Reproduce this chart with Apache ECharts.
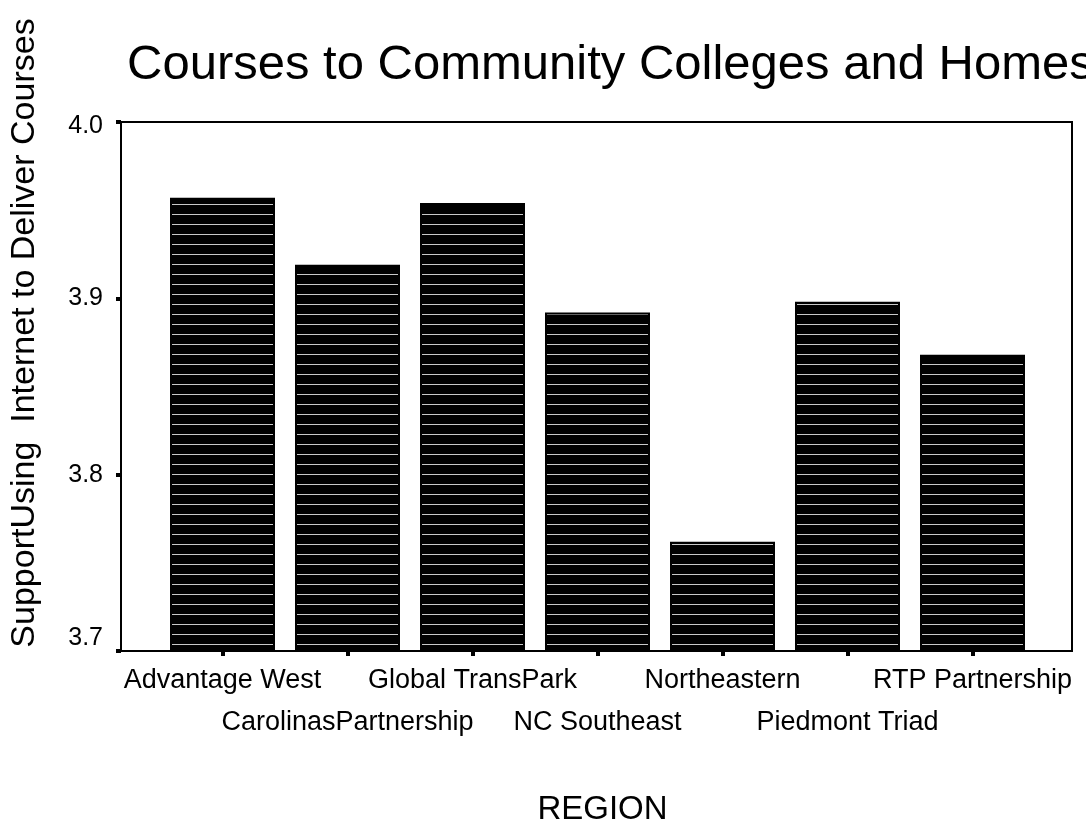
<!DOCTYPE html>
<html>
<head>
<meta charset="utf-8">
<script src="https://cdn.jsdelivr.net/npm/echarts@6/dist/echarts.min.js"></script>
<style>
  html, body { margin: 0; padding: 0; background: #fff; }
  #chart { width: 1086px; height: 824px; }
</style>
</head>
<body>
<div id="chart"></div>
<script>
var regions = ['Advantage West', 'CarolinasPartnership', 'Global TransPark', 'NC Southeast',
  'Northeastern', 'Piedmont Triad', 'RTP Partnership'];
var support = [3.957, 3.919, 3.954, 3.892, 3.762, 3.898, 3.868];
var yTicks = [3.7, 3.8, 3.9, 4.0];

var FONT = "'Liberation Sans', Arial, sans-serif";

// black fill with thin light horizontal lines
function stripes() {
  var c = document.createElement('canvas');
  c.width = 10;
  c.height = 10;
  var ctx = c.getContext('2d');
  ctx.fillStyle = '#000';
  ctx.fillRect(0, 0, 10, 10);
  ctx.fillStyle = '#c8c8c8';
  ctx.fillRect(0, 4, 10, 1);
  return c;
}

var chart = echarts.init(document.getElementById('chart'));
chart.setOption({
  backgroundColor: '#fff',
  animation: false,
  title: {
    text: 'Courses to Community Colleges and Homes',
    left: 122,
    top: 36,
    textStyle: { fontFamily: FONT, fontSize: 49, fontWeight: 'normal', color: '#000' }
  },
  // rotated axis title, sits a bit above the plot's middle in the original
  graphic: [{
    type: 'text',
    x: 25,
    y: 333,
    rotation: Math.PI / 2,
    style: {
      text: 'SupportUsing  Internet to Deliver Courses',
      font: '34px ' + FONT,
      fill: '#000',
      textAlign: 'center',
      textVerticalAlign: 'middle'
    }
  }],
  grid: [
    // frame
    { left: 121, right: 14, top: 122, bottom: 173, show: true, borderColor: '#000', borderWidth: 2,
      containLabel: false, outerBoundsMode: 'none' },
    // bars
    { left: 160, right: 51, top: 122, bottom: 173, containLabel: false, outerBoundsMode: 'none' }
  ],
  xAxis: [
    { gridIndex: 0, type: 'value', show: false, min: 0, max: 1 },
    {
      gridIndex: 1,
      type: 'category',
      data: regions,
      name: 'REGION',
      nameLocation: 'middle',
      nameGap: 142,
      nameTextStyle: { fontFamily: FONT, fontSize: 33, color: '#000', padding: [0, 0, 0, 10] },
      axisLine: { show: false },
      axisTick: { show: true, alignWithLabel: true, length: 5, lineStyle: { color: '#000', width: 4 } },
      axisLabel: {
        interval: 0,
        margin: 9,
        fontFamily: FONT,
        fontSize: 27,
        color: '#000',
        lineHeight: 42,
        formatter: function (v, i) { return i % 2 ? '\n' + v : v; }
      }
    }
  ],
  yAxis: [
    {
      gridIndex: 0,
      type: 'value',
      min: 3.7,
      max: 4.0,
      interval: 0.1,
      axisLine: { show: true, lineStyle: { color: '#000', width: 2 } },
      axisTick: { show: true, length: 5, lineStyle: { color: '#000', width: 4 } },
      splitLine: { show: false },
      axisLabel: {
        margin: 18,
        fontFamily: FONT,
        fontSize: 25,
        color: '#000',
        rich: {
          lo: { fontFamily: FONT, fontSize: 25, color: '#000', padding: [0, 0, 26, 0] },
          hi: { fontFamily: FONT, fontSize: 25, color: '#000', padding: [8, 0, 0, 0] }
        },
        formatter: function (v) {
          var t = yTicks.find(function (k) { return Math.abs(k - v) < 1e-6; });
          if (t === undefined) return '';
          var s = t.toFixed(1);
          if (t === yTicks[0]) return '{lo|' + s + '}';
          if (t === yTicks[yTicks.length - 1]) return '{hi|' + s + '}';
          return s;
        }
      }
    },
    { gridIndex: 1, type: 'value', min: 3.7, max: 4.0, show: false }
  ],
  series: [
    {
      type: 'bar',
      xAxisIndex: 1,
      yAxisIndex: 1,
      data: support,
      barCategoryGap: '16%',
      itemStyle: {
        color: { image: stripes(), repeat: 'repeat' },
        borderColor: '#000',
        borderWidth: 2
      }
    }
  ]
});
</script>
</body>
</html>
